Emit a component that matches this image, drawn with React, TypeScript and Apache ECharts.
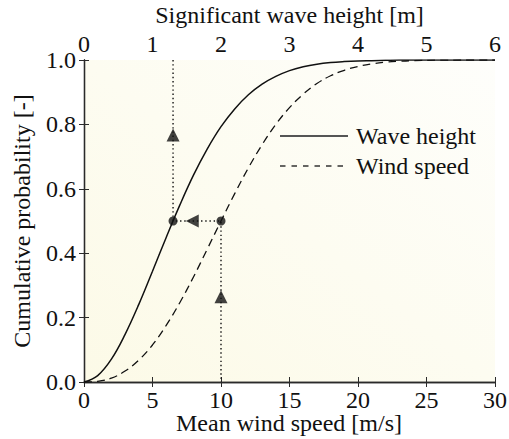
import React, { useEffect, useRef } from "react";
import * as echarts from "echarts";

const windX = [0, 1, 2, 3, 4, 5, 6, 7, 8, 9, 10, 11, 12, 13, 14, 15, 16, 17, 18, 19, 20, 21, 22, 23, 24, 26, 28, 30];
const waveHeightCdf = [0, 0.02, 0.071, 0.148, 0.241, 0.344, 0.449, 0.55, 0.643, 0.724, 0.793, 0.848, 0.892, 0.925, 0.949, 0.967, 0.979, 0.987, 0.992, 0.995, 0.997, 0.998, 0.999, 1, 1, 1, 1, 1];
const windSpeedCdf = [0, 0.002, 0.012, 0.034, 0.068, 0.115, 0.176, 0.247, 0.327, 0.413, 0.5, 0.585, 0.665, 0.737, 0.8, 0.852, 0.894, 0.927, 0.951, 0.968, 0.98, 0.988, 0.993, 0.996, 0.998, 0.9995, 1, 1];

const guidePath = [[6.5, 1], [6.5, 0.5], [10, 0.5], [10, 0]];
const dots = [[6.5, 0.5], [10, 0.5]];
const upArrows = [[6.5, 0.767], [10, 0.265]];
const leftArrows = [[7.9, 0.5]];

const legendLabels = ["Wave height", "Wind speed"];
const xTitle = "Mean wind speed [m/s]";
const topTitle = "Significant wave height [m]";
const yTitle = "Cumulative probability [-]";

const FONT = "Liberation Serif";
const FS = 24;
const AX = "#2a2a2a";

export default function App() {
  const ref = useRef<HTMLDivElement>(null);
  useEffect(() => {
    if (!ref.current) return;
    const chart = echarts.init(ref.current, undefined, { renderer: "svg" });
    const axisCommon = {
      axisLine: { show: true, lineStyle: { color: AX, width: 1.3 } },
      axisTick: { show: true, inside: true, length: 5, lineStyle: { color: AX, width: 1 } },
      splitLine: { show: false },
      axisLabel: { color: "#111", fontFamily: FONT, fontSize: FS },
      nameTextStyle: { color: "#111", fontFamily: FONT, fontSize: FS },
    };
    chart.setOption({
      animation: false,
      textStyle: { fontFamily: FONT },
      grid: {
        left: 84,
        right: 14,
        top: 60,
        bottom: 57,
        containLabel: false,
        outerBoundsMode: "none",
        show: true,
        borderWidth: 0,
        backgroundColor: new echarts.graphic.LinearGradient(0, 1, 1, 0, [
          { offset: 0, color: "#fcfae7" },
          { offset: 1, color: "#fefefb" },
        ]),
      },
      graphic: [
        { type: "line", shape: { x1: 280, y1: 136, x2: 348, y2: 136 }, style: { stroke: "#555", lineWidth: 2 }, z: 10 },
        { type: "line", shape: { x1: 280, y1: 166, x2: 348, y2: 166 }, style: { stroke: "#333", lineWidth: 1.3, lineDash: [5.5, 6] }, z: 10 },
        { type: "text", x: 356, y: 136, style: { text: legendLabels[0], fontFamily: FONT, fontSize: FS, fill: "#111", verticalAlign: "middle" }, z: 10 },
        { type: "text", x: 356, y: 166, style: { text: legendLabels[1], fontFamily: FONT, fontSize: FS, fill: "#111", verticalAlign: "middle" }, z: 10 },
        { type: "text", x: 289, y: 423, style: { text: xTitle, fontFamily: FONT, fontSize: FS, fill: "#111", align: "center", verticalAlign: "middle" }, z: 10 },
      ],
      xAxis: [
        {
          ...axisCommon,
          type: "value",
          position: "bottom",
          min: 0,
          max: 30,
          interval: 5,
          axisLabel: { ...axisCommon.axisLabel, margin: 6 },
        },
        {
          ...axisCommon,
          type: "value",
          position: "top",
          min: 0,
          max: 6,
          interval: 1,
          name: topTitle,
          nameLocation: "middle",
          nameGap: 32,
          axisLabel: { ...axisCommon.axisLabel, margin: 4 },
        },
      ],
      yAxis: [
        {
          ...axisCommon,
          type: "value",
          position: "left",
          min: 0,
          max: 1,
          interval: 0.2,
          name: yTitle,
          nameLocation: "middle",
          nameGap: 50,
          axisLabel: { ...axisCommon.axisLabel, margin: 8, formatter: (v: number) => v.toFixed(1) },
        },
        {
          ...axisCommon,
          type: "value",
          position: "right",
          min: 0,
          max: 1,
          interval: 0.2,
          axisLabel: { show: false },
        },
      ],
      series: [
        {
          name: "Wave height",
          type: "line",
          xAxisIndex: 0,
          yAxisIndex: 0,
          data: windX.map((x, i) => [x, waveHeightCdf[i]]),
          smooth: 0.4,
          symbol: "none",
          lineStyle: { color: "#111", width: 1.5, type: "solid" },
        },
        {
          name: "Wind speed",
          type: "line",
          xAxisIndex: 0,
          yAxisIndex: 0,
          data: windX.map((x, i) => [x, windSpeedCdf[i]]),
          smooth: 0.4,
          symbol: "none",
          lineStyle: { color: "#111", width: 1.3, type: [8, 5] },
        },
        {
          name: "guide",
          type: "line",
          data: guidePath,
          symbol: "none",
          lineStyle: { color: "#111", width: 1.4, type: [1.4, 2.8] },
          z: 3,
        },
        {
          name: "dots",
          type: "scatter",
          data: dots,
          symbol: "circle",
          symbolSize: 9,
          itemStyle: { color: "#111" },
          z: 4,
        },
        {
          name: "up",
          type: "scatter",
          data: upArrows,
          symbol: "triangle",
          symbolSize: 13,
          itemStyle: { color: "#111" },
          z: 4,
        },
        {
          name: "left",
          type: "scatter",
          data: leftArrows,
          symbol: "triangle",
          symbolRotate: 90,
          symbolSize: 13,
          itemStyle: { color: "#111" },
          z: 4,
        },
      ],
    });
    return () => chart.dispose();
  }, []);
  return <div ref={ref} style={{ width: 509, height: 439, position: "absolute", left: 0, top: 0 }} />;
}
